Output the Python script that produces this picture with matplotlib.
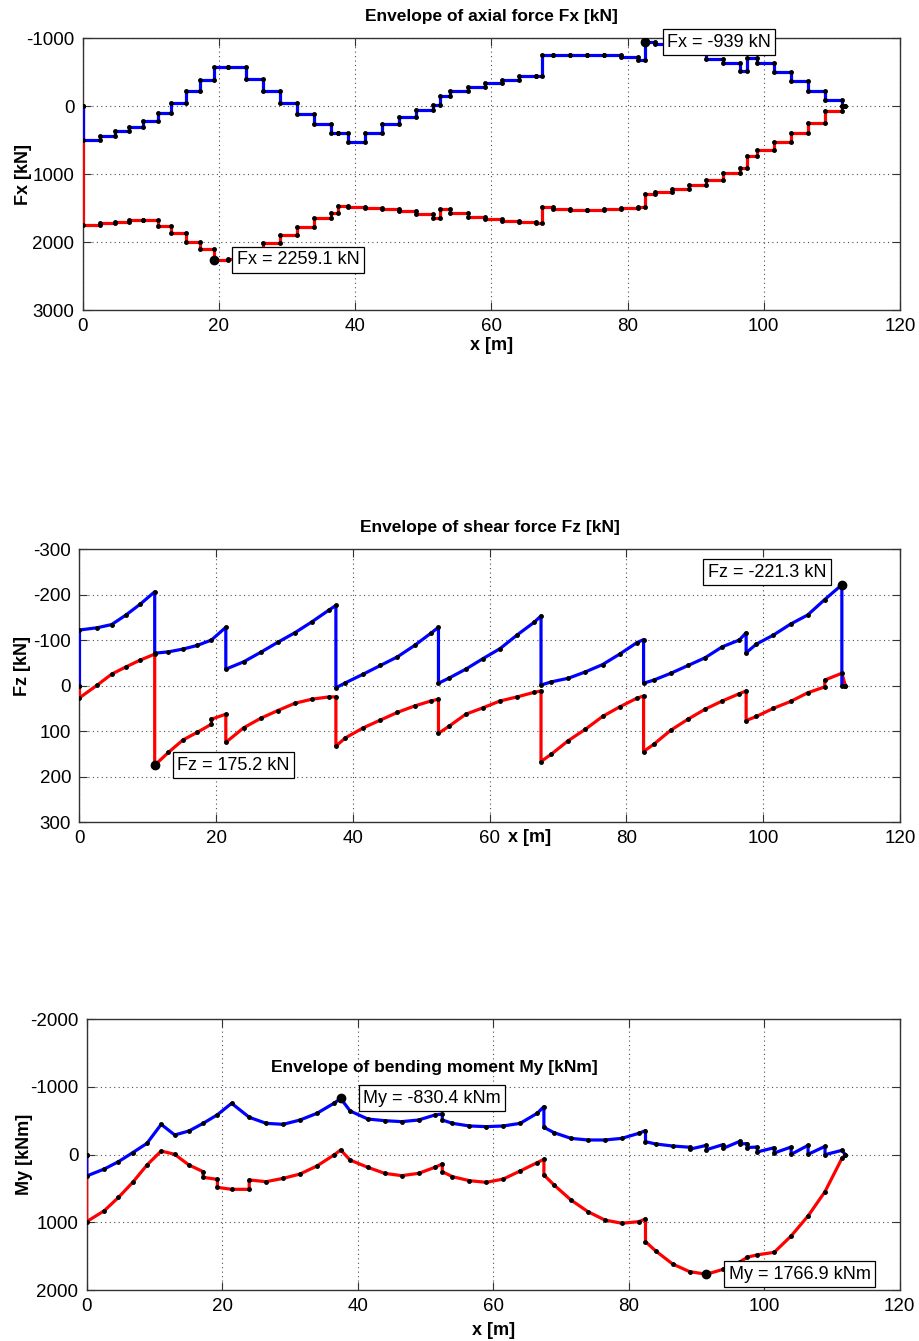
import numpy as np
import matplotlib
matplotlib.use("Agg")
import matplotlib.pyplot as plt

plt.rcParams['font.family'] = ['Liberation Sans', 'DejaVu Sans']
plt.rcParams['axes.unicode_minus'] = False

# --- data: axial force (constant per element, first element has zero length) ---
FX_EDGES = [0.0, 0.0, 2.6, 4.7, 6.8, 8.9, 11.0, 13.0, 15.1, 17.2, 19.3, 21.4, 24.0,
            26.5, 29.0, 31.5, 34.0, 36.5, 37.5, 38.9, 41.5, 44.0, 46.5, 49.0, 51.4,
            52.5, 54.0, 56.5, 59.0, 61.5, 64.0, 66.5, 67.5, 69.0, 71.5, 74.0, 76.5,
            79.0, 81.5, 82.5, 84.0, 86.5, 89.0, 91.5, 94.0, 96.5, 97.5, 99.0, 101.5,
            104.0, 106.5, 109.0, 111.5, 112.0]
FX_MIN = [0, 500, 436, 368, 304, 216, 108, -49, -221, -382, -578, -578, -392, -221,
          -39, 123, 265, 392, 392, 525, 392, 270, 167, 59, -20, -152, -225, -284,
          -343, -382, -441, -441, -745, -752, -757, -757, -750, -725, -676, -939,
          -907, -860, -790, -691, -628, -519, -710, -628, -496, -368, -225, -88, 0]
FX_MAX = [0, 1750, 1725, 1700, 1676, 1676, 1765, 1873, 1995, 2108, 2259.1, 2255,
          2150, 2020, 1897, 1775, 1652, 1578, 1466, 1490, 1505, 1510, 1540, 1588,
          1652, 1520, 1578, 1627, 1662, 1686, 1700, 1715, 1490, 1520, 1529, 1529,
          1520, 1505, 1480, 1294, 1260, 1220, 1162, 1088, 990, 917, 730, 647, 525,
          392, 245, 72, 0]

# --- data: shear force ---
FZ_MIN_X = [0, 0, 2.6, 4.7, 6.8, 8.9, 11.0, 11.0, 13.0, 15.1, 17.2, 19.3, 21.4, 21.4,
            24.0, 26.5, 29.0, 31.5, 34.0, 36.5, 37.5, 37.5, 38.9, 41.5, 44.0, 46.5,
            49.0, 51.4, 52.5, 52.5, 54.0, 56.5, 59.0, 61.5, 64.0, 66.5, 67.5, 67.5,
            69.0, 71.5, 74.0, 76.5, 79.0, 81.5, 82.5, 82.5, 84.0, 86.5, 89.0, 91.5,
            94.0, 96.5, 97.5, 97.5, 99.0, 101.5, 104.0, 106.5, 109.0, 111.5, 111.5, 112.0]
FZ_MIN = [0, -122, -127, -134, -155, -179, -206, -71, -74, -80, -88, -100, -128, -36,
          -52, -73, -95, -116, -140, -166, -176, 5, -6, -25, -44, -63, -88, -115,
          -128, -5, -16, -36, -59, -81, -111, -139, -153, -1, -8, -16, -30, -46,
          -69, -94, -101, -5, -12, -27, -44, -61, -85, -100, -116, -72, -91, -111,
          -135, -155, -189, -221.3, 1, 0]
FZ_MAX_X = [0, 0, 2.6, 4.7, 6.8, 8.9, 11.0, 11.0, 13.0, 15.1, 17.2, 19.3, 19.3, 21.4,
            21.4, 24.0, 26.5, 29.0, 31.5, 34.0, 36.5, 37.5, 37.5, 38.9, 41.5, 44.0,
            46.5, 49.0, 51.4, 52.5, 52.5, 54.0, 56.5, 59.0, 61.5, 64.0, 66.5, 67.5,
            67.5, 69.0, 71.5, 74.0, 76.5, 79.0, 81.5, 82.5, 82.5, 84.0, 86.5, 89.0,
            91.5, 94.0, 96.5, 97.5, 97.5, 99.0, 101.5, 104.0, 106.5, 109.0, 109.0,
            111.5, 112.0]
FZ_MAX = [0, 27, -1, -25, -41, -56, -69, 175.2, 147, 120, 103, 85, 74, 63, 125, 93,
          72, 55, 39, 30, 25, 25, 133, 115, 93, 76, 59, 45, 34, 30, 105, 90, 63, 49,
          34, 25, 15, 12, 167, 151, 121, 96, 68, 47, 28, 23, 145, 129, 98, 74, 52,
          34, 18, 12, 77, 68, 50, 35, 16, 3, -12, -27, 0]

# --- data: bending moment ---
MY_MIN_X = [0, 0, 2.6, 4.7, 6.8, 8.9, 11.0, 13.0, 15.1, 17.2, 19.3, 21.4, 24.0, 26.5,
            29.0, 31.5, 34.0, 36.5, 37.5, 38.9, 41.5, 44.0, 46.5, 49.0, 51.4, 52.5,
            52.5, 54.0, 56.5, 59.0, 61.5, 64.0, 66.5, 67.5, 67.5, 69.0, 71.5, 74.0,
            76.5, 79.0, 81.5, 82.5, 82.5, 84.0, 86.5, 89.0, 89.0, 91.5, 91.5, 94.0,
            94.0, 96.5, 96.5, 97.5, 97.5, 99.0, 99.0, 101.5, 101.5, 104.0, 104.0,
            106.5, 106.5, 109.0, 109.0, 111.5, 112.0]
MY_MIN = [0, 315, 212, 103, -30, -167, -448, -291, -350, -463, -590, -759, -552,
          -463, -448, -512, -611, -759, -830.4, -645, -527, -502, -488, -512, -586,
          -601, -512, -463, -424, -414, -424, -463, -611, -709, -404, -325, -241,
          -217, -217, -241, -315, -355, -192, -158, -128, -110, -80, -138, -74,
          -150, -95, -200, -160, -163, -105, -113, -40, -103, -25, -113, -5, -138,
          -5, -123, 0, -64, 0]
MY_MAX_X = [0, 0, 2.6, 4.7, 6.8, 8.9, 11.0, 13.0, 15.1, 17.2, 17.2, 19.3, 19.3, 21.4,
            24.0, 24.0, 26.5, 29.0, 31.5, 34.0, 36.5, 37.5, 38.9, 41.5, 44.0, 46.5,
            49.0, 51.4, 52.5, 52.5, 54.0, 56.5, 59.0, 61.5, 64.0, 66.5, 67.5, 67.5,
            69.0, 71.5, 74.0, 76.5, 79.0, 81.5, 82.5, 82.5, 84.0, 86.5, 89.0, 91.5,
            94.0, 96.5, 97.5, 99.0, 101.5, 104.0, 106.5, 109.0, 111.5, 112.0]
MY_MAX = [0, 990, 828, 631, 409, 153, -54, -5, 153, 251, 335, 365, 483, 512, 512,
          374, 399, 350, 286, 167, 5, -69, 80, 187, 276, 310, 276, 187, 138, 251,
          325, 384, 409, 360, 241, 118, 69, 300, 448, 670, 842, 966, 1013, 990,
          950, 1285, 1422, 1615, 1728, 1766.9, 1693, 1580, 1516, 1480, 1443, 1201,
          905, 546, 54, 0]

X_TICKS = [0, 20, 40, 60, 80, 100, 120]
FX_TICKS = [-1000, 0, 1000, 2000, 3000]
FZ_TICKS = [-300, -200, -100, 0, 100, 200, 300]
MY_TICKS = [-2000, -1000, 0, 1000, 2000]

BLUE = "#0000ff"
RED = "#ff0000"
FS = 13

fig = plt.figure(figsize=(9.19, 13.41), dpi=100)


def style_axes(ax, yticks):
    ax.set_xlim(0, 120)
    ax.set_ylim(yticks[-1], yticks[0])
    ax.set_xticks(X_TICKS)
    ax.set_yticks(yticks)
    ax.grid(True, linestyle=(0, (1, 3)), color="0.3", lw=0.8)
    ax.tick_params(direction="in", length=6, top=True, right=True, labelsize=13.5,
                   pad=6, color="0.2")
    for s in ax.spines.values():
        s.set_color("0.2")
        s.set_linewidth(1.0)


def note(ax, x, y, txt, ha="left", va="center"):
    ax.text(x, y, txt, ha=ha, va=va, fontsize=FS, zorder=6,
            bbox=dict(boxstyle="square,pad=0.25", fc="white", ec="black", lw=0.9))


def mark_series(ax, x, y, color):
    ax.plot(x, y, color=color, lw=2.3, zorder=3)
    ax.plot(x, y, ls="none", marker=".", ms=5, color="black", zorder=4)


# ---------------- axial force ----------------
ax1 = fig.add_axes([0.0900, 0.7688, 0.8893, 0.2028])
edges = np.array(FX_EDGES)
for vals, col in [(FX_MAX, RED), (FX_MIN, BLUE)]:
    vals = np.array(vals, dtype=float)
    ax1.stairs(vals, edges, baseline=None, color=col, lw=2.3, zorder=3)
    ax1.plot(np.r_[edges[:-1], edges[1:]], np.r_[vals, vals], ls="none",
             marker=".", ms=5, color="black", zorder=4)
style_axes(ax1, FX_TICKS)
ax1.set_title("Envelope of axial force Fx [kN]", fontsize=12.5, fontweight="bold", pad=12)
ax1.set_xlabel("x [m]", fontsize=FS, fontweight="bold", va="center")
ax1.xaxis.set_label_coords(0.5, -0.132)
ax1.set_ylabel("Fx [kN]", fontsize=FS, fontweight="bold", va="center")
ax1.yaxis.set_label_coords(-0.072, 0.5)

i = int(np.argmin(FX_MIN))
ax1.plot(edges[i], FX_MIN[i], "o", color="black", ms=6, zorder=5)
note(ax1, edges[i] + 3.3, FX_MIN[i], f"Fx = {FX_MIN[i]:g} kN")
i = int(np.argmax(FX_MAX))
ax1.plot(edges[i], FX_MAX[i], "o", color="black", ms=6, zorder=5)
note(ax1, edges[i] + 3.3, FX_MAX[i], f"Fx = {FX_MAX[i]:g} kN")

# ---------------- shear force ----------------
ax2 = fig.add_axes([0.0865, 0.3870, 0.8928, 0.2036])
mark_series(ax2, FZ_MAX_X, FZ_MAX, RED)
mark_series(ax2, FZ_MIN_X, FZ_MIN, BLUE)
style_axes(ax2, FZ_TICKS)
ax2.set_title("Envelope of shear force Fz [kN]", fontsize=12.5, fontweight="bold", pad=12)
ax2.set_xlabel("x [m]", fontsize=FS, fontweight="bold", va="center")
ax2.xaxis.set_label_coords(0.549, -0.055)
ax2.set_ylabel("Fz [kN]", fontsize=FS, fontweight="bold", va="center")
ax2.yaxis.set_label_coords(-0.069, 0.57)

i = int(np.argmax(FZ_MAX))
ax2.plot(FZ_MAX_X[i], FZ_MAX[i], "o", color="black", ms=6, zorder=5)
note(ax2, FZ_MAX_X[i] + 3.3, FZ_MAX[i], f"Fz = {FZ_MAX[i]:g} kN")
i = int(np.argmin(FZ_MIN))
ax2.plot(FZ_MIN_X[i], FZ_MIN[i], "o", color="black", ms=6, zorder=5)
note(ax2, FZ_MIN_X[i] - 2.3, FZ_MIN[i] - 28, f"Fz = {FZ_MIN[i]:g} kN", ha="right")

# ---------------- bending moment ----------------
ax3 = fig.add_axes([0.0943, 0.0380, 0.8845, 0.2019])
mark_series(ax3, MY_MAX_X, MY_MAX, RED)
mark_series(ax3, MY_MIN_X, MY_MIN, BLUE)
style_axes(ax3, MY_TICKS)
ax3.text(51.3, -1295, "Envelope of bending moment My [kNm]", ha="center", va="center",
         fontsize=12.5, fontweight="bold")
ax3.set_xlabel("x [m]", fontsize=FS, fontweight="bold", va="center")
ax3.xaxis.set_label_coords(0.5, -0.148)
ax3.set_ylabel("My [kNm]", fontsize=FS, fontweight="bold", va="center")
ax3.yaxis.set_label_coords(-0.076, 0.5)

i = int(np.argmin(MY_MIN))
ax3.plot(MY_MIN_X[i], MY_MIN[i], "o", color="black", ms=6, zorder=5)
note(ax3, MY_MIN_X[i] + 3.3, MY_MIN[i], f"My = {MY_MIN[i]:g} kNm")
i = int(np.argmax(MY_MAX))
ax3.plot(MY_MAX_X[i], MY_MAX[i], "o", color="black", ms=6, zorder=5)
note(ax3, MY_MAX_X[i] + 3.3, MY_MAX[i], f"My = {MY_MAX[i]:g} kNm")

fig.savefig("out.png", dpi=100, facecolor="white")
